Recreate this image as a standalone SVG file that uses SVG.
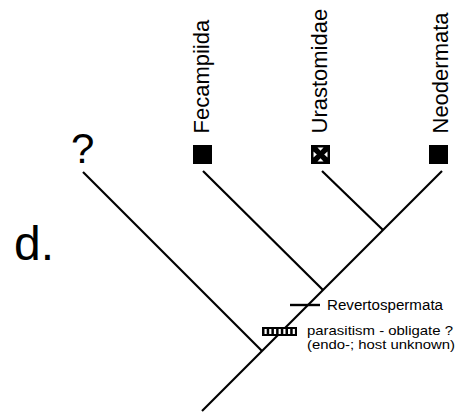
<svg xmlns="http://www.w3.org/2000/svg" width="463" height="414" viewBox="0 0 463 414">
  <style>
    .br { stroke: #000; stroke-width: 2.2; fill: none; stroke-linecap: butt; }
    .taxon { font-family: "Liberation Sans", Arial, sans-serif; font-size: 22px; fill: #000; }
    .note { font-family: "Liberation Sans", Arial, sans-serif; font-size: 14px; fill: #000; }
    .note2 { font-family: "Liberation Sans", Arial, sans-serif; font-size: 13.2px; fill: #000; }
    .big { font-family: "Liberation Sans", Arial, sans-serif; fill: #000; }
  </style>
  <rect width="463" height="414" fill="#fff"/>

  <!-- tree branches -->
  <g id="connectors">
    <line class="br" x1="202" y1="411" x2="442" y2="171"/>
    <line class="br" x1="262" y1="351" x2="83" y2="172"/>
    <line class="br" x1="323" y1="290" x2="203" y2="171"/>
    <line class="br" x1="383" y1="230" x2="322" y2="171"/>
  </g>

  <!-- panel letter -->
  <text class="big" x="14" y="260" font-size="48">d.</text>

  <!-- unknown sister group -->
  <g id="unknown">
    <text class="big" x="71" y="163" font-size="42">?</text>
  </g>

  <g id="fecampiida">
    <rect x="193" y="145" width="19" height="19" fill="#000"/>
    <text class="taxon" transform="translate(208.5,133.5) rotate(-90)">Fecampiida</text>
  </g>

  <g id="urastomidae">
    <rect x="311" y="145" width="19" height="19" fill="#000"/>
    <g fill="#fff">
      <polygon points="313.5,151.5 313.5,157.5 316.8,154.5"/>
      <polygon points="327.5,151.5 327.5,157.5 324.2,154.5"/>
      <polygon points="317.5,147.5 323.5,147.5 320.5,150.8"/>
      <polygon points="317.5,161.5 323.5,161.5 320.5,158.2"/>
    </g>
    <text class="taxon" transform="translate(326.5,133.5) rotate(-90)">Urastomidae</text>
  </g>

  <g id="neodermata">
    <rect x="429" y="145" width="19" height="19" fill="#000"/>
    <text class="taxon" transform="translate(447.5,133.5) rotate(-90)">Neodermata</text>
  </g>

  <!-- character: Revertospermata -->
  <g id="revertospermata">
    <line x1="290" y1="305" x2="320" y2="305" stroke="#000" stroke-width="2.4"/>
    <text class="note" x="327" y="310" textLength="116" lengthAdjust="spacingAndGlyphs">Revertospermata</text>
  </g>

  <!-- character: parasitism -->
  <g id="parasitism">
    <rect x="262" y="327" width="35" height="9" fill="#000"/>
    <g fill="#fff">
      <rect x="264.5" y="329" width="2.2" height="5"/>
      <rect x="269.2" y="329" width="2.2" height="5"/>
      <rect x="273.9" y="329" width="2.2" height="5"/>
      <rect x="278.6" y="329" width="2.2" height="5"/>
      <rect x="283.3" y="329" width="2.2" height="5"/>
      <rect x="288" y="329" width="2.2" height="5"/>
      <rect x="292.7" y="329" width="2.2" height="5"/>
    </g>
    <text class="note2" x="307" y="334.5" textLength="146" lengthAdjust="spacingAndGlyphs">parasitism - obligate ?</text>
    <text class="note2" x="307" y="349.3" textLength="148" lengthAdjust="spacingAndGlyphs">(endo-; host unknown)</text>
  </g>
</svg>
